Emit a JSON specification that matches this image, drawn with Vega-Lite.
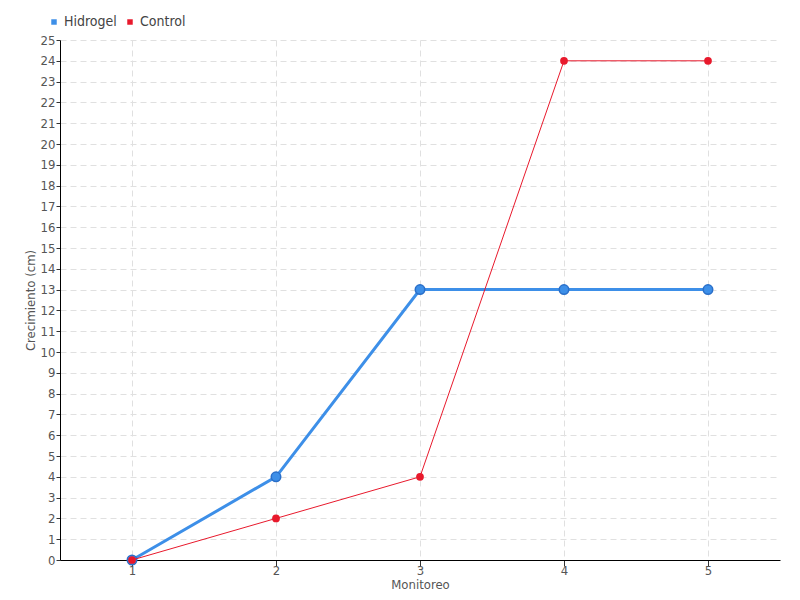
{
  "$schema": "https://vega.github.io/schema/vega-lite/v6.json",
  "width": 720,
  "height": 520,
  "autosize": "none",
  "padding": {"left": 60, "top": 40, "right": 20, "bottom": 40},
  "background": "white",
  "config": {
    "font": "DejaVu Sans Condensed, Liberation Sans Narrow, sans-serif",
    "view": {"stroke": null},
    "axis": {
      "labelFont": "DejaVu Sans Condensed, Liberation Sans Narrow, sans-serif",
      "titleFont": "DejaVu Sans Condensed, Liberation Sans Narrow, sans-serif",
      "labelColor": "#555555",
      "titleColor": "#555555",
      "labelFontSize": 13,
      "titleFontSize": 13,
      "titleFontWeight": "normal",
      "domainColor": "#000000",
      "tickColor": "#333333",
      "gridColor": "#e0e0e0",
      "gridDash": [6, 4]
    }
  },
  "data": {
    "values": [
      {"serie": "Hidrogel", "monitoreo": 1, "crecimiento": 0},
      {"serie": "Hidrogel", "monitoreo": 2, "crecimiento": 4},
      {"serie": "Hidrogel", "monitoreo": 3, "crecimiento": 13},
      {"serie": "Hidrogel", "monitoreo": 4, "crecimiento": 13},
      {"serie": "Hidrogel", "monitoreo": 5, "crecimiento": 13},
      {"serie": "Control", "monitoreo": 1, "crecimiento": 0},
      {"serie": "Control", "monitoreo": 2, "crecimiento": 2},
      {"serie": "Control", "monitoreo": 3, "crecimiento": 4},
      {"serie": "Control", "monitoreo": 4, "crecimiento": 24},
      {"serie": "Control", "monitoreo": 5, "crecimiento": 24}
    ]
  },
  "encoding": {
    "x": {
      "field": "monitoreo",
      "type": "quantitative",
      "scale": {"domain": [0.5, 5.5], "nice": false, "zero": false},
      "axis": {
        "title": "Monitoreo",
        "values": [1, 2, 3, 4, 5],
        "tickSize": 6,
        "labelPadding": -2,
        "titlePadding": 1,
        "grid": true
      }
    },
    "y": {
      "field": "crecimiento",
      "type": "quantitative",
      "scale": {"domain": [0, 25], "nice": false},
      "axis": {
        "title": "Crecimiento (cm)",
        "values": [0,1,2,3,4,5,6,7,8,9,10,11,12,13,14,15,16,17,18,19,20,21,22,23,24,25],
        "tickSize": 4,
        "labelPadding": 1,
        "titlePadding": 3,
        "grid": true
      }
    },
    "color": {
      "field": "serie",
      "type": "nominal",
      "scale": {"domain": ["Hidrogel", "Control"], "range": ["#3d8fe8", "#e8192c"]},
      "legend": {
        "title": null,
        "orient": "none",
        "direction": "horizontal",
        "legendX": -13,
        "legendY": -25,
        "symbolType": "square",
        "symbolSize": 30,
        "symbolStrokeWidth": 0,
        "labelFontSize": 14,
        "labelColor": "#444444",
        "labelFont": "DejaVu Sans Condensed, Liberation Sans Narrow, sans-serif",
        "columnPadding": 6,
        "symbolOffset": 0,
        "labelOffset": 3
      }
    }
  },
  "layer": [
    {
      "transform": [{"filter": "datum.serie === 'Hidrogel'"}],
      "mark": {"type": "line", "strokeWidth": 3}
    },
    {
      "transform": [{"filter": "datum.serie === 'Hidrogel'"}],
      "mark": {"type": "point", "filled": true, "size": 90, "opacity": 1, "stroke": "#2a6fc9", "strokeWidth": 1.5}
    },
    {
      "transform": [{"filter": "datum.serie === 'Control'"}],
      "mark": {"type": "line", "strokeWidth": 1}
    },
    {
      "transform": [{"filter": "datum.serie === 'Control'"}],
      "mark": {"type": "point", "filled": true, "size": 60, "opacity": 1}
    }
  ]
}
